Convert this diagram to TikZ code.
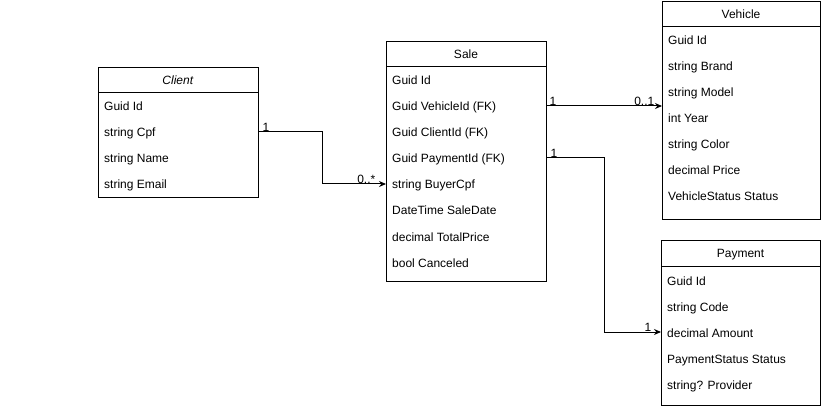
\documentclass[tikz,border=0pt]{standalone}
\usepackage{fontspec}
\setmainfont{Liberation Sans}
\usetikzlibrary{arrows.meta}
\begin{document}
\begin{tikzpicture}[x=1pt,y=-1pt,
  box/.style={draw, line width=1pt, fill=white, anchor=north west, inner sep=0pt},
  hdr/.style={font=\fontsize{12}{14}\selectfont, inner sep=0pt, text height=12.6pt, text depth=2.6pt},
  attr/.style={font=\fontsize{12}{14}\selectfont, anchor=west, inner sep=0pt, text height=12.6pt, text depth=2.6pt},
  lbl/.style={font=\fontsize{12}{14}\selectfont, inner sep=0.5pt},
  conn/.style={line width=1pt, -{Stealth[length=7pt,width=6pt]}}]
\useasboundingbox (0,0) rectangle (822,406);
% Client
\node[box, minimum width=160pt, minimum height=130pt] (client) at (98,67) {};
\draw[line width=1pt] ([yshift=-26pt]client.north west) -- ([yshift=-26pt]client.north east);
\node[hdr] (clientT) at (178,80) {\textit{Client}};
\node[attr] (c1) at (104,106) {Guid Id};
\node[attr] (c2) at (104,132) {string Cpf};
\node[attr] (c3) at (104,158) {string Name};
\node[attr] (c4) at (104,184) {string Email};
% Sale
\node[box, minimum width=160pt, minimum height=240pt] (sale) at (386,41) {};
\draw[line width=1pt] ([yshift=-26pt]sale.north west) -- ([yshift=-26pt]sale.north east);
\node[hdr] (saleT) at (466,54) {Sale};
\node[attr] (s1) at (392,80) {Guid Id};
\node[attr] (s2) at (392,106) {Guid VehicleId (FK)};
\node[attr] (s3) at (392,132) {Guid ClientId (FK)};
\node[attr] (s4) at (392,158) {Guid PaymentId (FK)};
\node[attr] (s5) at (392,184) {string BuyerCpf};
\node[attr] (s6) at (392,210) {DateTime SaleDate};
\node[attr] (s7) at (392,236) {decimal TotalPrice};
\node[attr] (s8) at (392,262) {bool Canceled};
% Vehicle
\node[box, minimum width=158pt, minimum height=218pt] (veh) at (662,1) {};
\draw[line width=1pt] ([yshift=-26pt]veh.north west) -- ([yshift=-26pt]veh.north east);
\node[hdr] (vehT) at (741,14) {Vehicle};
\node[attr] (v1) at (668,40) {Guid Id};
\node[attr] (v2) at (668,66) {string Brand};
\node[attr] (v3) at (668,92) {string Model};
\node[attr] (v4) at (668,118) {int Year};
\node[attr] (v5) at (668,144) {string Color};
\node[attr] (v6) at (668,170) {decimal Price};
\node[attr] (v7) at (668,196) {VehicleStatus Status};
% Payment
\node[box, minimum width=159pt, minimum height=165pt] (pay) at (661,240) {};
\draw[line width=1pt] ([yshift=-26pt]pay.north west) -- ([yshift=-26pt]pay.north east);
\node[hdr] (payT) at (740.5,253) {Payment};
\node[attr] (p1) at (667,280) {Guid Id};
\node[attr] (p2) at (667,306) {string Code};
\node[attr] (p3) at (667,332) {decimal Amount};
\node[attr] (p4) at (667,358) {PaymentStatus Status};
\node[attr] (p5) at (667,384) {string? Provider};
% bend points
\coordinate (b1) at (322,0);
\coordinate (b2) at (604,0);
% connectors
\draw[conn] (client.east |- c2) -- (b1 |- c2) -- (b1 |- s5) -- (sale.west |- s5);
\draw[conn] (sale.east |- s2) -- (veh.west |- s2);
\draw[conn] (sale.east |- s4) -- (b2 |- s4) -- (b2 |- p3) -- (pay.west |- p3);
% labels
\node[lbl, anchor=south west] (l1) at ([xshift=3pt]client.east |- c2) {1};
\node[lbl, anchor=south east] (l2) at ([xshift=-10pt]sale.west |- s5) {0..*};
\node[lbl, anchor=south west] (l3) at ([xshift=2pt]sale.east |- s2) {1};
\node[lbl, anchor=south east] (l4) at ([xshift=-7pt]veh.west |- s2) {0..1};
\node[lbl, anchor=south west] (l5) at ([xshift=3pt]sale.east |- s4) {1};
\node[lbl, anchor=south east] (l6) at ([xshift=-9pt]pay.west |- p3) {1};
\end{tikzpicture}
\end{document}
